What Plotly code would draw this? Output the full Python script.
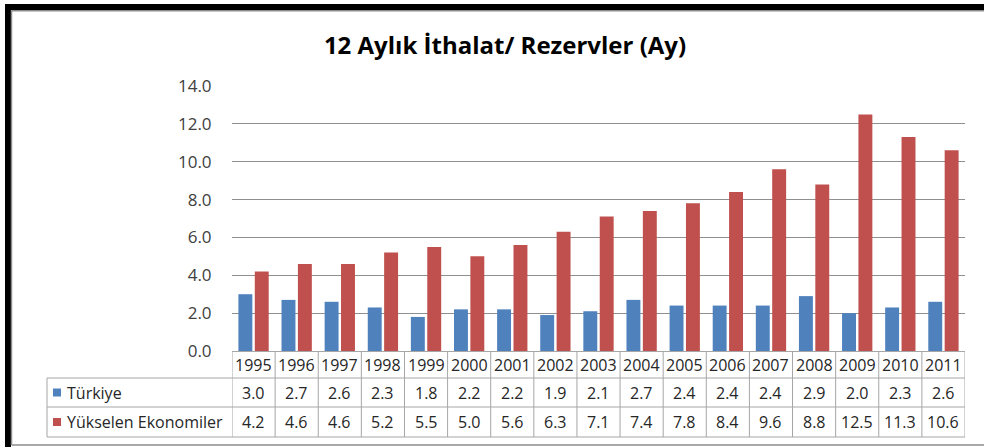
import plotly.graph_objects as go

years = ["1995", "1996", "1997", "1998", "1999", "2000", "2001", "2002", "2003",
         "2004", "2005", "2006", "2007", "2008", "2009", "2010", "2011"]
turkiye = [3.0, 2.7, 2.6, 2.3, 1.8, 2.2, 2.2, 1.9, 2.1, 2.7, 2.4, 2.4, 2.4, 2.9, 2.0, 2.3, 2.6]
yukselen = [4.2, 4.6, 4.6, 5.2, 5.5, 5.0, 5.6, 6.3, 7.1, 7.4, 7.8, 8.4, 9.6, 8.8, 12.5, 11.3, 10.6]
series_names = ["Türkiye", "Yükselen Ekonomiler"]
colors = ["#4F81BD", "#C0504D"]
yticks = [0, 2, 4, 6, 8, 10, 12, 14]
title = "12 Aylık İthalat/ Rezervler (Ay)"

W, H = 984, 447
L, R, T, B = 232, 19, 86, 96
PW = W - L - R
PH = H - T - B


def px(x):
    return (x - L) / PW


def py(y):
    return (H - B - y) / PH


FONT = "Open Sans, Noto Sans, sans-serif"
TXT = "#262626"
TABLE_LINE = "#a6a6a6"

fig = go.Figure()
for name, vals, col in zip(series_names, [turkiye, yukselen], colors):
    fig.add_trace(go.Bar(x=years, y=vals, name=name, marker=dict(color=col, line=dict(width=0))))

shapes = []
annotations = []

row_hdr = (351, 378)
row1 = (378, 407)
row2 = (407, 437)
left_edge = 47

for yy in [row1[0], row2[0], row2[1]]:
    shapes.append(dict(type="line", xref="paper", yref="paper", x0=px(left_edge), x1=1,
                       y0=py(yy), y1=py(yy), line=dict(color=TABLE_LINE, width=1)))
shapes.append(dict(type="line", xref="paper", yref="paper", x0=px(left_edge), x1=px(left_edge),
                   y0=py(row1[0]), y1=py(row2[1]), line=dict(color=TABLE_LINE, width=1)))
for i in range(len(years) + 1):
    shapes.append(dict(type="line", xref="x", yref="paper", x0=i - 0.5, x1=i - 0.5,
                       y0=0, y1=py(row2[1]), line=dict(color=TABLE_LINE, width=1)))

for (r0, r1), col in zip([row1, row2], colors):
    c = (r0 + r1) / 2
    shapes.append(dict(type="rect", xref="paper", yref="paper", x0=px(53), x1=px(61),
                       y0=py(c + 4), y1=py(c - 4), fillcolor=col, line=dict(width=0)))

for i, yr in enumerate(years):
    annotations.append(dict(x=i, xref="x", xanchor="center", y=py(sum(row_hdr) / 2), yref="paper",
                            yanchor="middle", text=yr, showarrow=False,
                            font=dict(size=16, color=TXT, family=FONT)))
    for (r0, r1), vals in zip([row1, row2], [turkiye, yukselen]):
        annotations.append(dict(x=i, xref="x", xanchor="center", y=py((r0 + r1) / 2), yref="paper",
                                yanchor="middle", text=f"{vals[i]:.1f}", showarrow=False,
                                font=dict(size=16, color=TXT, family=FONT)))
for (r0, r1), name in zip([row1, row2], series_names):
    annotations.append(dict(x=px(65), xref="paper", xanchor="left", y=py((r0 + r1) / 2), yref="paper",
                            yanchor="middle", text=name, showarrow=False,
                            font=dict(size=16, color=TXT, family=FONT)))

shapes.append(dict(type="rect", xref="paper", yref="paper", x0=px(5), x1=px(11), y0=py(447), y1=py(4),
                   fillcolor="black", line=dict(width=0), layer="above"))
shapes.append(dict(type="rect", xref="paper", yref="paper", x0=px(5), x1=px(984), y0=py(10), y1=py(4),
                   fillcolor="black", line=dict(width=0), layer="above"))
shapes.append(dict(type="line", xref="paper", yref="paper", x0=px(11.5), x1=px(11.5), y0=py(445), y1=py(10.5),
                   line=dict(color="#8c8c8c", width=1.5)))
shapes.append(dict(type="line", xref="paper", yref="paper", x0=px(11.5), x1=px(984), y0=py(10.8), y1=py(10.8),
                   line=dict(color="#8c8c8c", width=1.5)))
shapes.append(dict(type="line", xref="paper", yref="paper", x0=px(11.5), x1=px(984), y0=py(445), y1=py(445),
                   line=dict(color="#8c8c8c", width=1.5)))

fig.update_layout(
    width=W, height=H,
    margin=dict(l=L, r=R, t=T, b=B),
    paper_bgcolor="white", plot_bgcolor="white",
    barmode="group", bargap=0.24, bargroupgap=0.15,
    showlegend=False,
    title=dict(text=f"<b>{title}</b>", x=505 / W, xanchor="center", y=1 - 46 / H, yanchor="middle",
               font=dict(size=24, color="black", family=FONT)),
    xaxis=dict(type="category", range=[-0.5, len(years) - 0.5], showticklabels=False,
               showgrid=False, zeroline=False, showline=True, linecolor=TABLE_LINE, linewidth=1,
               fixedrange=True),
    yaxis=dict(range=[0, 14], tickvals=yticks, tickformat=".1f", showgrid=True, gridcolor="#8f8f8f",
               gridwidth=1, zeroline=False, showline=False, ticks="outside", ticklen=16,
               tickcolor="rgba(0,0,0,0)", tickfont=dict(size=17, color="#404040", family=FONT),
               fixedrange=True),
    shapes=shapes,
    annotations=annotations,
)

fig.write_html("out.html", config={"displayModeBar": False},
               post_script="document.body.style.margin='0';document.body.style.padding='0';")
